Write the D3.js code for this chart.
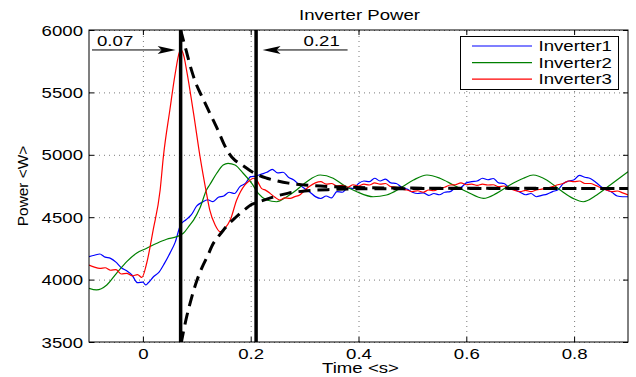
<!DOCTYPE html>
<html>
<head>
<meta charset="utf-8">
<script src="https://cdn.jsdelivr.net/npm/d3@7/dist/d3.min.js"></script>
<style>
  body { margin: 0; background: #fff; }
  text { font-family: "Liberation Sans", Arial, sans-serif; fill: #000; }
</style>
</head>
<body>
<div id="chart"></div>
<script>
// --- data: [time (s), power (W)] ---
const seriesNames = ['Inverter1', 'Inverter2', 'Inverter3'];
const seriesColors = ['#0000ff', '#008000', '#ff0000'];

const inverter1 = [
  [-0.10, 4184], [-0.09, 4195], [-0.08, 4205], [-0.07, 4180], [-0.06, 4170], [-0.05, 4140],
  [-0.04, 4095], [-0.03, 4070], [-0.02, 4035], [-0.01, 3975], [0.00, 3980], [0.005, 3957],
  [0.01, 3975], [0.02, 4025], [0.03, 4060], [0.04, 4130], [0.05, 4210], [0.06, 4300],
  [0.07, 4440], [0.08, 4480], [0.09, 4520], [0.10, 4590], [0.11, 4620], [0.12, 4640],
  [0.13, 4625], [0.14, 4660], [0.15, 4670], [0.16, 4700], [0.17, 4690], [0.18, 4745],
  [0.19, 4770], [0.20, 4825], [0.21, 4830], [0.22, 4845], [0.23, 4860], [0.24, 4884],
  [0.25, 4855], [0.26, 4860], [0.27, 4820], [0.28, 4798], [0.29, 4760], [0.30, 4730],
  [0.31, 4700], [0.32, 4665], [0.33, 4650], [0.34, 4670], [0.35, 4655], [0.36, 4705],
  [0.37, 4700], [0.38, 4735], [0.39, 4730], [0.40, 4770], [0.41, 4790], [0.42, 4785],
  [0.43, 4812], [0.44, 4790], [0.45, 4805], [0.46, 4775], [0.47, 4770], [0.48, 4740],
  [0.49, 4725], [0.50, 4700], [0.51, 4690], [0.52, 4695], [0.53, 4675], [0.54, 4690],
  [0.55, 4680], [0.56, 4700], [0.57, 4705], [0.58, 4735], [0.59, 4740], [0.60, 4775],
  [0.61, 4785], [0.62, 4790], [0.63, 4812], [0.64, 4800], [0.65, 4810], [0.66, 4775],
  [0.67, 4770], [0.68, 4735], [0.69, 4720], [0.70, 4700], [0.71, 4680], [0.72, 4690],
  [0.73, 4664], [0.74, 4675], [0.75, 4685], [0.76, 4705], [0.77, 4720], [0.78, 4770],
  [0.79, 4790], [0.80, 4800], [0.81, 4835], [0.82, 4820], [0.83, 4810], [0.84, 4780],
  [0.85, 4745], [0.86, 4718], [0.87, 4700], [0.88, 4670], [0.89, 4664], [0.90, 4664]
];

const inverter2 = [
  [-0.10, 3930], [-0.086, 3917], [-0.067, 3957], [-0.049, 4050], [-0.03, 4144], [-0.012, 4211],
  [0.007, 4251], [0.026, 4291], [0.044, 4323], [0.063, 4344], [0.075, 4371], [0.087, 4437],
  [0.094, 4477], [0.106, 4575], [0.118, 4718], [0.124, 4760], [0.137, 4852], [0.149, 4918],
  [0.158, 4932], [0.171, 4918], [0.186, 4852], [0.202, 4771], [0.214, 4691], [0.23, 4638],
  [0.248, 4624], [0.267, 4664], [0.285, 4718], [0.304, 4785], [0.329, 4838], [0.353, 4812],
  [0.372, 4758], [0.397, 4704], [0.427, 4664], [0.452, 4678], [0.477, 4731], [0.502, 4798],
  [0.527, 4838], [0.551, 4812], [0.576, 4758], [0.601, 4704], [0.632, 4651], [0.656, 4691],
  [0.681, 4758], [0.706, 4812], [0.724, 4838], [0.749, 4798], [0.774, 4718], [0.798, 4651],
  [0.817, 4624], [0.842, 4678], [0.867, 4758], [0.90, 4865]
];

const inverter3 = [
  [-0.10, 4117], [-0.09, 4100], [-0.08, 4090], [-0.07, 4095], [-0.06, 4075], [-0.05, 4080],
  [-0.04, 4045], [-0.03, 4050], [-0.02, 4030], [-0.01, 4040], [-0.002, 4018], [0.007, 4131],
  [0.019, 4397], [0.032, 4718], [0.038, 4985], [0.05, 5359], [0.06, 5653], [0.068, 5826],
  [0.071, 5840], [0.076, 5790], [0.081, 5679], [0.094, 5332], [0.106, 4985], [0.118, 4691],
  [0.124, 4558], [0.134, 4437], [0.143, 4384], [0.152, 4411], [0.162, 4477], [0.174, 4638],
  [0.189, 4758], [0.197, 4790], [0.205, 4812], [0.212, 4790], [0.22, 4731], [0.228, 4715],
  [0.236, 4691], [0.245, 4660], [0.254, 4638], [0.263, 4655], [0.273, 4651], [0.282, 4665],
  [0.291, 4678], [0.30, 4715], [0.31, 4750], [0.32, 4775], [0.33, 4785], [0.34, 4765],
  [0.35, 4770], [0.36, 4750], [0.37, 4755], [0.38, 4740], [0.39, 4760], [0.40, 4750],
  [0.41, 4765], [0.42, 4758], [0.43, 4775], [0.44, 4765], [0.45, 4770], [0.46, 4745],
  [0.47, 4740], [0.48, 4725], [0.49, 4718], [0.50, 4705], [0.51, 4712], [0.52, 4700],
  [0.53, 4718], [0.54, 4712], [0.55, 4730], [0.56, 4740], [0.57, 4758], [0.58, 4760],
  [0.59, 4775], [0.60, 4760], [0.61, 4765], [0.62, 4755], [0.63, 4765], [0.64, 4758],
  [0.65, 4760], [0.66, 4745], [0.67, 4750], [0.68, 4730], [0.69, 4715], [0.70, 4705],
  [0.71, 4715], [0.72, 4705], [0.73, 4718], [0.74, 4725], [0.75, 4735], [0.76, 4745],
  [0.77, 4760], [0.78, 4770], [0.79, 4790], [0.80, 4785], [0.81, 4790], [0.82, 4770],
  [0.83, 4770], [0.84, 4755], [0.85, 4735], [0.86, 4718], [0.87, 4705], [0.88, 4710],
  [0.89, 4695], [0.90, 4678]
];

// dashed envelope curves
const upperBound = [
  [0.07, 6000], [0.08, 5840], [0.09, 5680], [0.10, 5555], [0.11, 5463], [0.12, 5372],
  [0.13, 5281], [0.14, 5190], [0.15, 5090], [0.16, 5010], [0.17, 4960], [0.18, 4930],
  [0.19, 4900], [0.20, 4870], [0.21, 4845], [0.23, 4812], [0.25, 4790], [0.27, 4773],
  [0.30, 4758], [0.35, 4745], [0.40, 4738], [0.50, 4733], [0.60, 4732], [0.90, 4730]
];
const lowerBound = [
  [0.071, 3490], [0.08, 3680], [0.09, 3850], [0.10, 3990], [0.11, 4100], [0.12, 4190],
  [0.13, 4285], [0.14, 4345], [0.15, 4400], [0.16, 4450], [0.17, 4490], [0.18, 4530],
  [0.19, 4565], [0.20, 4598], [0.21, 4615], [0.23, 4645], [0.25, 4672], [0.27, 4693],
  [0.30, 4710], [0.35, 4722], [0.40, 4727], [0.50, 4729], [0.60, 4730], [0.90, 4730]
];

const markerTimes = [0.07, 0.21];
const markerLabels = ['0.07', '0.21'];
const arrowLevel = 5840;

const xTicks = [0, 0.2, 0.4, 0.6, 0.8];
const yTicks = [3500, 4000, 4500, 5000, 5500, 6000];

// --- layout ---
const W = 636, H = 377;
const margin = { top: 30, right: 8, bottom: 35, left: 89 };
const iw = W - margin.left - margin.right;
const ih = H - margin.top - margin.bottom;
const SX = 1.33; // the reference text is drawn wide

const svg = d3.select('#chart').append('svg')
  .attr('width', W).attr('height', H);

const g = svg.append('g')
  .attr('transform', `translate(${margin.left},${margin.top})`);

const x = d3.scaleLinear().domain([-0.1, 0.9]).range([0, iw]);
const y = d3.scaleLinear().domain([3500, 6000]).range([ih, 0]);

function label(parent, px, py, str, anchor, size) {
  return parent.append('text')
    .attr('transform', `translate(${px},${py}) scale(${SX},1)`)
    .attr('text-anchor', anchor || 'start')
    .style('font-size', (size || 14) + 'px')
    .text(str);
}

svg.append('defs').append('clipPath').attr('id', 'plot-clip')
  .append('rect').attr('width', iw).attr('height', ih);

// grid
g.append('g')
  .attr('class', 'grid')
  .attr('transform', `translate(0,${ih})`)
  .call(d3.axisBottom(x).tickValues(xTicks).tickSize(-ih).tickFormat(''))
  .call(a => a.select('.domain').remove());
g.append('g')
  .attr('class', 'grid')
  .call(d3.axisLeft(y).tickValues(yTicks).tickSize(-iw).tickFormat(''))
  .call(a => a.select('.domain').remove());
g.selectAll('.grid line')
  .attr('stroke', '#7a7a7a')
  .attr('stroke-width', 1)
  .attr('stroke-dasharray', '1,4');

// data lines
const line = d3.line()
  .x(d => x(d[0]))
  .y(d => y(d[1]))
  .curve(d3.curveMonotoneX);

const plot = g.append('g').attr('clip-path', 'url(#plot-clip)');

[inverter1, inverter2, inverter3].forEach((s, i) => {
  plot.append('path')
    .datum(s)
    .attr('fill', 'none')
    .attr('stroke', seriesColors[i])
    .attr('stroke-width', 1.2)
    .attr('d', line);
});

[upperBound, lowerBound].forEach(s => {
  plot.append('path')
    .datum(s)
    .attr('fill', 'none')
    .attr('stroke', '#000')
    .attr('stroke-width', 3)
    .attr('stroke-dasharray', '12,7')
    .attr('d', line);
});

// marker lines
plot.selectAll('.marker')
  .data(markerTimes)
  .enter().append('line')
  .attr('class', 'marker')
  .attr('x1', d => x(d)).attr('x2', d => x(d))
  .attr('y1', 0).attr('y2', ih)
  .attr('stroke', '#000')
  .attr('stroke-width', 3.5);

// arrows with labels
const ay = y(arrowLevel);
function arrowHead(tip, dir) {
  // dir = 1 points right, -1 points left
  const L = 18, hw = 4, notch = 14;
  return `M${tip},${ay} L${tip - dir * L},${ay - hw} L${tip - dir * notch},${ay} L${tip - dir * L},${ay + hw} Z`;
}
const leftTip = x(markerTimes[0]) - 5;
g.append('line')
  .attr('x1', x(-0.1) + 3).attr('x2', leftTip - 10)
  .attr('y1', ay).attr('y2', ay)
  .attr('stroke', '#000').attr('stroke-width', 1);
g.append('path').attr('d', arrowHead(leftTip, 1)).attr('fill', '#000');
label(g, x(-0.1) + 8, ay - 3.5, markerLabels[0]);

const rightTip = x(markerTimes[1]) + 6.5;
g.append('line')
  .attr('x1', rightTip + 10).attr('x2', rightTip + 85)
  .attr('y1', ay).attr('y2', ay)
  .attr('stroke', '#000').attr('stroke-width', 1);
g.append('path').attr('d', arrowHead(rightTip, -1)).attr('fill', '#000');
label(g, rightTip + 41, ay - 3.5, markerLabels[1]);

// axes: ticks inward on all four sides
const fmtX = d => (d === 0 ? '0' : d3.format('.1f')(d));
const xAxis = g.append('g')
  .attr('transform', `translate(0,${ih})`)
  .call(d3.axisBottom(x).tickValues(xTicks).tickSize(-5).tickFormat(fmtX));
xAxis.selectAll('text')
  .attr('y', null).attr('dy', null)
  .attr('transform', `translate(0,17) scale(${SX},1)`);

const yAxis = g.append('g')
  .call(d3.axisLeft(y).tickValues(yTicks).tickSize(-5).tickFormat(d3.format('d')));
yAxis.selectAll('text')
  .attr('x', null).attr('dy', null)
  .attr('transform', `translate(-6,5) scale(${SX},1)`);

g.append('g')
  .call(d3.axisTop(x).tickValues(xTicks).tickSize(-5).tickFormat(''));
g.append('g')
  .attr('transform', `translate(${iw},0)`)
  .call(d3.axisRight(y).tickValues(yTicks).tickSize(-5).tickFormat(''));

g.selectAll('.domain').remove();
g.selectAll('.tick line').filter(function () { return !this.closest('.grid'); })
  .attr('stroke', '#000');
g.selectAll('.tick text')
  .style('font-size', '14px')
  .style('font-family', '"Liberation Sans", Arial, sans-serif')
  .attr('fill', '#000');

g.append('rect')
  .attr('width', iw).attr('height', ih)
  .attr('fill', 'none')
  .attr('stroke', '#000')
  .attr('stroke-width', 1);

// titles
label(svg, margin.left + iw / 2 + 1, 19.5, 'Inverter Power', 'middle');
label(svg, margin.left + iw / 2 + 2, 373, 'Time <s>', 'middle');
svg.append('text')
  .attr('transform', `translate(28,${margin.top + ih / 2}) rotate(-90) scale(1.1,1)`)
  .attr('text-anchor', 'middle')
  .style('font-size', '14px')
  .text('Power <W>');

// legend
const legend = svg.append('g').attr('transform', 'translate(460.5,36.5)');
legend.append('rect')
  .attr('width', 158).attr('height', 53)
  .attr('fill', '#fff').attr('stroke', '#000').attr('stroke-width', 1);
seriesNames.forEach((name, i) => {
  const ly = 9.5 + i * 16.6;
  legend.append('line')
    .attr('x1', 11.5).attr('x2', 71.5)
    .attr('y1', ly).attr('y2', ly)
    .attr('stroke', seriesColors[i]).attr('stroke-width', 1.2);
  label(legend, 78, ly + 5, name);
});
</script>
</body>
</html>
